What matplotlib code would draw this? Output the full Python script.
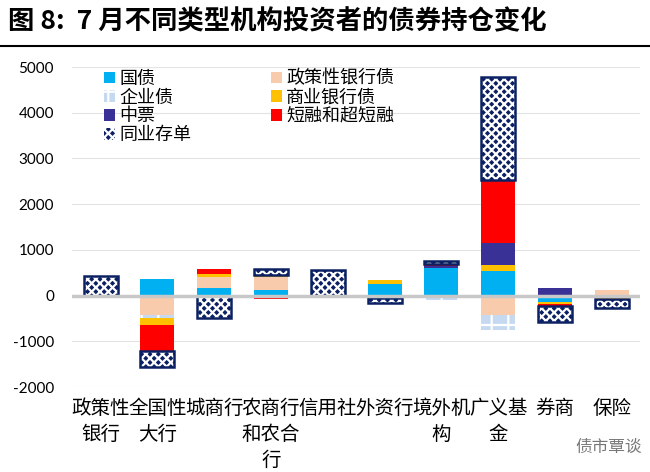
import numpy as np
import matplotlib.pyplot as plt
from matplotlib.patches import Patch

plt.rcParams['font.family'] = ['Noto Sans CJK SC', 'DejaVu Sans']
plt.rcParams['hatch.linewidth'] = 1.6

# data
categories = ['政策性\n银行', '全国性\n大行', '城商行', '农商行\n和农合\n行', '信用社',
              '外资行', '境外机\n构', '广义基\n金', '券商', '保险']
guozhai = [0, 370, 170, 130, 0, 260, 610, 545, -130, 0]
zhengjinzhai = [0, -420, 240, 285, 0, -30, 0, -420, -20, 120]
qiyezhai = [0, -60, 0, 0, 0, 0, -100, -330, 0, -40]
shangyinzhai = [0, -170, 65, 45, 0, 90, 0, 130, -30, -30]
zhongpiao = [0, 0, 0, 0, 0, 0, 40, 480, 170, 0]
duanrong = [-60, -570, 110, -70, -60, -20, 50, 1380, -50, 0]
cundan = [430, -350, -500, 130, 550, -110, 60, 2250, -350, -210]

yticks = [-2000, -1000, 0, 1000, 2000, 3000, 4000, 5000]

navy = '#0C2163'
series = [
    ('国债', guozhai, '#00B0F0', None),
    ('政策性银行债', zhengjinzhai, '#F8CBAD', None),
    ('企业债', qiyezhai, '#C5D9F1', '+'),
    ('商业银行债', shangyinzhai, '#FFC000', None),
    ('中票', zhongpiao, '#3A3197', None),
    ('短融和超短融', duanrong, '#FF0000', None),
    ('同业存单', cundan, navy, 'xxxx'),
]

fig = plt.figure(figsize=(6.5, 4.72), dpi=100)
ax = fig.add_axes([0.111, 0.180, 0.874, 0.678])

x = np.arange(len(categories))
width = 0.6
pos_base = np.zeros(len(categories))
neg_base = np.zeros(len(categories))
handles = {}
for name, vals, color, hatch in series:
    vals = np.array(vals, dtype=float)
    bottom = np.where(vals >= 0, pos_base, neg_base)
    if hatch is None:
        ax.bar(x, vals, width, bottom=bottom, color=color, linewidth=0, zorder=2)
        handles[name] = Patch(facecolor=color, linewidth=0)
    else:
        ax.bar(x, vals, width, bottom=bottom, color=color, edgecolor='white',
               hatch=hatch, linewidth=0, zorder=2)
        if name == '同业存单':
            # navy frame around the white pattern
            ax.bar(x, vals, width, bottom=bottom, fill=False, edgecolor=navy,
                   linewidth=1.8, zorder=3)
        handles[name] = Patch(facecolor=color, edgecolor='white', hatch=hatch, linewidth=0)
    pos_base += np.where(vals >= 0, vals, 0)
    neg_base += np.where(vals < 0, vals, 0)

ax.axhline(0, color='#C8C8C8', lw=2.5, zorder=4)
ax.set_ylim(-2000, 5000)
ax.set_xlim(-0.5, len(categories) - 0.5)
ax.set_yticks(yticks)
ax.set_yticklabels([str(t) for t in yticks], fontfamily='Lato', fontsize=11)
ax.set_xticks(x)
ax.set_xticklabels(categories, fontsize=14, linespacing=1.3, va='top')
ax.tick_params(axis='both', length=0)
ax.tick_params(axis='y', pad=13)
ax.tick_params(axis='x', pad=8)
ax.yaxis.grid(True, color='#E3E3E3', lw=0.8)
ax.set_axisbelow(True)
for s in ax.spines.values():
    s.set_visible(False)

order = ['国债', '企业债', '中票', '同业存单', '政策性银行债', '商业银行债', '短融和超短融']
ax.legend([handles[n] for n in order], order, ncol=2, loc='upper left',
          bbox_to_anchor=(0.04, 1.02), frameon=False, fontsize=13,
          handlelength=0.6, handleheight=0.6, handletextpad=0.25,
          labelspacing=0.05, columnspacing=4.4, borderpad=0)

fig.text(0.012, 0.953, '图 8:  7 月不同类型机构投资者的债券持仓变化',
         fontsize=19, fontweight='bold', va='center', ha='left')
fig.add_artist(plt.Line2D([0, 1], [0.902, 0.902], color='black', lw=1.5))
fig.text(0.885, 0.053, '债市覃谈', fontsize=12, color='#777777', va='center')

fig.savefig('out.png', dpi=100)
